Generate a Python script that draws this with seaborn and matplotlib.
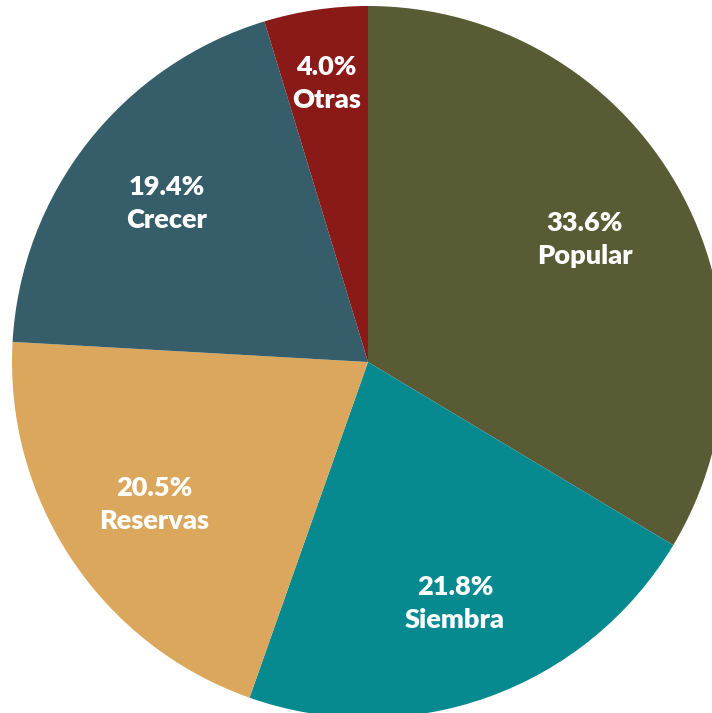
import numpy as np
import matplotlib
matplotlib.use('Agg')
import matplotlib.pyplot as plt
import seaborn as sns

# Datos
categorias = ['Popular', 'Siembra', 'Reservas', 'Crecer', 'Otras']
porcentajes = [33.6, 21.8, 20.5, 19.4, 4.7]       # tamaño de cada porción
etiquetas_pct = ['33.6%', '21.8%', '20.5%', '19.4%', '4.0%']  # texto tal como aparece
colores = ['#585b34', '#078a8f', '#dba75c', '#365d6a', '#8a1a17']
dist_etiqueta = [0.70, 0.72, 0.72, 0.72, 0.79]

sns.set_theme(style='white')
plt.rcParams['font.family'] = ['Lato', 'DejaVu Sans']

W, H = 712, 713
fig = plt.figure(figsize=(W / 100, H / 100), dpi=100)
cx, cy, r = 368, 362, 356
ax = fig.add_axes([(cx - r) / W, (H - cy - r) / H, 2 * r / W, 2 * r / H])

paleta = sns.color_palette(colores)
wedges, _ = ax.pie(porcentajes, colors=paleta, startangle=90, counterclock=False,
                   radius=1, wedgeprops=dict(linewidth=0))

for w, cat, txt, d in zip(wedges, categorias, etiquetas_pct, dist_etiqueta):
    ang = np.deg2rad((w.theta1 + w.theta2) / 2)
    ax.text(d * np.cos(ang), d * np.sin(ang), f'{txt}\n{cat}',
            ha='center', va='center', color='white', fontsize=19.5,
            fontweight='heavy', linespacing=1.45)

ax.set_xlim(-1, 1)
ax.set_ylim(-1, 1)
ax.set_aspect('equal')
ax.axis('off')

fig.savefig('out.png', dpi=100)
